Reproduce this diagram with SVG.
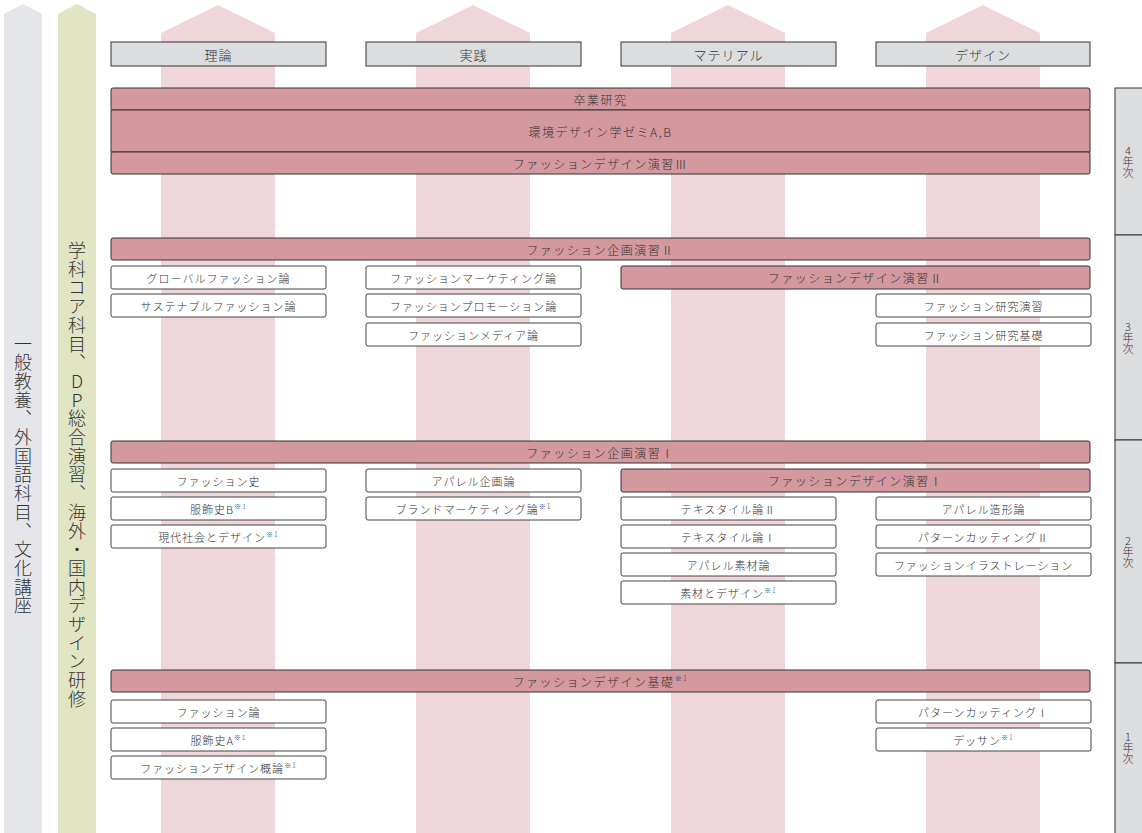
<svg xmlns="http://www.w3.org/2000/svg" width="1142" height="833" viewBox="0 0 1142 833">
<style>
text{font-family:"Noto Sans CJK JP","Noto Sans",sans-serif;fill:#333;dominant-baseline:central;text-anchor:middle;font-weight:300}
.hd{fill:#dcdddf;stroke:#333;stroke-width:1}
.hdt{font-size:13px;letter-spacing:1px}
.bar{fill:#d4999f;stroke:#333;stroke-width:1}
.bart{font-size:12px;letter-spacing:1.5px}
.box{fill:#fff;stroke:#444;stroke-width:1}
.bxt{font-size:11px;letter-spacing:1px}
.sup{font-size:7px}
.yr{fill:#dcdddf;stroke:#333;stroke-width:1}
.yrt{font-size:11px;writing-mode:vertical-rl;text-orientation:upright}
.vt{font-size:18px;letter-spacing:0.7px;writing-mode:vertical-rl;text-orientation:upright}
.pc{fill:#efd6da}
</style>
<g id="background">
<polygon points="4,14 23,4 42,14 42,833 4,833" fill="#e5e6ea"/>
<polygon points="58,14 77,4 96,14 96,833 58,833" fill="#e1e5c3"/>
<polygon class="pc" points="161,33 218,5 275,33 275,833 161,833"/>
<polygon class="pc" points="416,33 473,5 530,33 530,833 416,833"/>
<polygon class="pc" points="671,33 728,5 785,33 785,833 671,833"/>
<polygon class="pc" points="926,33 983,5 1040,33 1040,833 926,833"/>
</g>
<g id="side-general"><text class="vt" x="23" y="475">一般教養、外国語科目、文化講座</text></g>
<g id="side-core"><text class="vt" x="77" y="475">学科コア科目、DP総合演習、海外・国内デザイン研修</text></g>
<g id="h-theory"><rect class="hd" x="111" y="42" width="215" height="24"/><text class="hdt" x="218.5" y="54">理論</text></g>
<g id="h-practice"><rect class="hd" x="366" y="42" width="215" height="24"/><text class="hdt" x="473.5" y="54">実践</text></g>
<g id="h-material"><rect class="hd" x="621" y="42" width="215" height="24"/><text class="hdt" x="728.5" y="54">マテリアル</text></g>
<g id="h-design"><rect class="hd" x="876" y="42" width="214" height="24"/><text class="hdt" x="983" y="54">デザイン</text></g>
<g id="y4"><rect class="yr" x="1115" y="88" width="40" height="147"/><text class="yrt" x="1128" y="162">4年次</text></g>
<g id="y3"><rect class="yr" x="1115" y="235" width="40" height="205"/><text class="yrt" x="1128" y="338">3年次</text></g>
<g id="y2"><rect class="yr" x="1115" y="440" width="40" height="223"/><text class="yrt" x="1128" y="552">2年次</text></g>
<g id="y1"><rect class="yr" x="1115" y="663" width="40" height="175"/><text class="yrt" x="1128" y="748">1年次</text></g>
<g id="sotsugyo"><rect class="bar" x="111" y="88" width="979" height="22" rx="2"/><text class="bart" x="600.5" y="99">卒業研究</text></g>
<g id="zemi"><rect class="bar" x="111" y="110" width="979" height="42"/><text class="bart" x="600.5" y="131">環境デザイン学ゼミA,B</text></g>
<g id="fd3"><rect class="bar" x="111" y="152" width="979" height="22" rx="2"/><text class="bart" x="600.5" y="163">ファッションデザイン演習Ⅲ</text></g>
<g id="kikaku2"><rect class="bar" x="111" y="238" width="979" height="22" rx="2"/><text class="bart" x="600.5" y="249">ファッション企画演習Ⅱ</text></g>
<g id="global"><rect class="box" x="111" y="266" width="215" height="23" rx="2"/><text class="bxt" x="218.5" y="277.5">グローバルファッション論</text></g>
<g id="sustain"><rect class="box" x="111" y="294" width="215" height="23" rx="2"/><text class="bxt" x="218.5" y="305.5">サステナブルファッション論</text></g>
<g id="marketing"><rect class="box" x="366" y="266" width="215" height="23" rx="2"/><text class="bxt" x="473.5" y="277.5">ファッションマーケティング論</text></g>
<g id="promo"><rect class="box" x="366" y="294" width="215" height="23" rx="2"/><text class="bxt" x="473.5" y="305.5">ファッションプロモーション論</text></g>
<g id="media"><rect class="box" x="366" y="323" width="215" height="23" rx="2"/><text class="bxt" x="473.5" y="334.5">ファッションメディア論</text></g>
<g id="fd2"><rect class="bar" x="621" y="266" width="469" height="23" rx="2"/><text class="bart" x="855.5" y="277.5">ファッションデザイン演習Ⅱ</text></g>
<g id="kenkyu-enshu"><rect class="box" x="876" y="294" width="215" height="23" rx="2"/><text class="bxt" x="983.5" y="305.5">ファッション研究演習</text></g>
<g id="kenkyu-kiso"><rect class="box" x="876" y="323" width="215" height="23" rx="2"/><text class="bxt" x="983.5" y="334.5">ファッション研究基礎</text></g>
<g id="kikaku1"><rect class="bar" x="111" y="441" width="979" height="22" rx="2"/><text class="bart" x="600.5" y="452">ファッション企画演習Ⅰ</text></g>
<g id="shi"><rect class="box" x="111" y="469" width="215" height="23" rx="2"/><text class="bxt" x="218.5" y="480.5">ファッション史</text></g>
<g id="fukushoku-b"><rect class="box" x="111" y="497" width="215" height="23" rx="2"/><text class="bxt" x="218.5" y="508.5">服飾史B<tspan class="sup" dy="-3">※1</tspan></text></g>
<g id="gendai"><rect class="box" x="111" y="525" width="215" height="23" rx="2"/><text class="bxt" x="218.5" y="536.5">現代社会とデザイン<tspan class="sup" dy="-3">※1</tspan></text></g>
<g id="apparel-kikaku"><rect class="box" x="366" y="469" width="215" height="23" rx="2"/><text class="bxt" x="473.5" y="480.5">アパレル企画論</text></g>
<g id="brand"><rect class="box" x="366" y="497" width="215" height="23" rx="2"/><text class="bxt" x="473.5" y="508.5">ブランドマーケティング論<tspan class="sup" dy="-3">※1</tspan></text></g>
<g id="fd1"><rect class="bar" x="621" y="469" width="469" height="23" rx="2"/><text class="bart" x="855.5" y="480.5">ファッションデザイン演習Ⅰ</text></g>
<g id="textile2"><rect class="box" x="621" y="497" width="215" height="23" rx="2"/><text class="bxt" x="728.5" y="508.5">テキスタイル論Ⅱ</text></g>
<g id="textile1"><rect class="box" x="621" y="525" width="215" height="23" rx="2"/><text class="bxt" x="728.5" y="536.5">テキスタイル論Ⅰ</text></g>
<g id="sozai"><rect class="box" x="621" y="553" width="215" height="23" rx="2"/><text class="bxt" x="728.5" y="564.5">アパレル素材論</text></g>
<g id="sozai-design"><rect class="box" x="621" y="581" width="215" height="23" rx="2"/><text class="bxt" x="728.5" y="592.5">素材とデザイン<tspan class="sup" dy="-3">※1</tspan></text></g>
<g id="zokei"><rect class="box" x="876" y="497" width="215" height="23" rx="2"/><text class="bxt" x="983.5" y="508.5">アパレル造形論</text></g>
<g id="pattern2"><rect class="box" x="876" y="525" width="215" height="23" rx="2"/><text class="bxt" x="983.5" y="536.5">パターンカッティングⅡ</text></g>
<g id="illust"><rect class="box" x="876" y="553" width="215" height="23" rx="2"/><text class="bxt" x="983.5" y="564.5">ファッションイラストレーション</text></g>
<g id="fd-kiso"><rect class="bar" x="111" y="670" width="979" height="22" rx="2"/><text class="bart" x="600.5" y="681">ファッションデザイン基礎<tspan class="sup" dy="-3">※1</tspan></text></g>
<g id="fashion-ron"><rect class="box" x="111" y="700" width="215" height="23" rx="2"/><text class="bxt" x="218.5" y="711.5">ファッション論</text></g>
<g id="fukushoku-a"><rect class="box" x="111" y="728" width="215" height="23" rx="2"/><text class="bxt" x="218.5" y="739.5">服飾史A<tspan class="sup" dy="-3">※1</tspan></text></g>
<g id="gairon"><rect class="box" x="111" y="756" width="215" height="23" rx="2"/><text class="bxt" x="218.5" y="767.5">ファッションデザイン概論<tspan class="sup" dy="-3">※1</tspan></text></g>
<g id="pattern1"><rect class="box" x="876" y="700" width="215" height="23" rx="2"/><text class="bxt" x="983.5" y="711.5">パターンカッティングⅠ</text></g>
<g id="dessin"><rect class="box" x="876" y="728" width="215" height="23" rx="2"/><text class="bxt" x="983.5" y="739.5">デッサン<tspan class="sup" dy="-3">※1</tspan></text></g>
</svg>
